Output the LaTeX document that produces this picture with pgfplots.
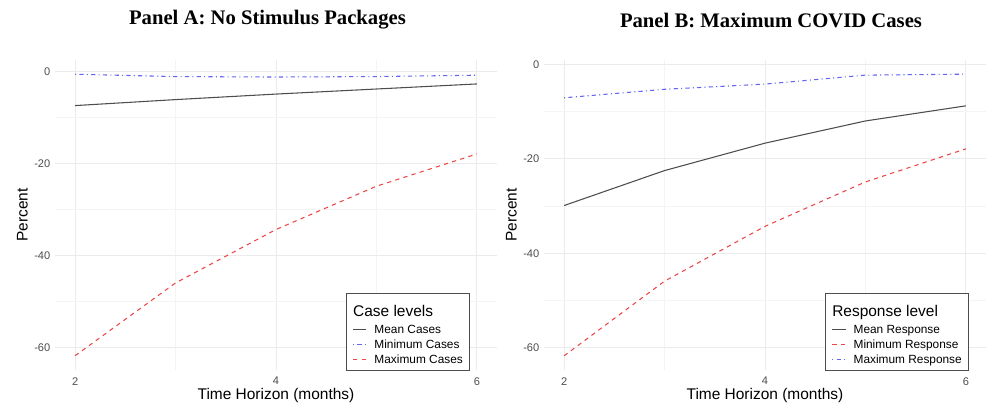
\documentclass[border=0pt]{standalone}
\usepackage{fontspec}
\setmainfont{Liberation Sans}
\newfontfamily\titlefont{Liberation Serif}
\usepackage{pgfplots}
\pgfplotsset{compat=1.18}
\definecolor{meancol}{RGB}{77,77,77}
\definecolor{bluecol}{RGB}{100,100,245}
\definecolor{redcol}{RGB}{238,70,70}
\definecolor{tickcol}{RGB}{77,77,77}
\definecolor{gridmaj}{RGB}{235,235,235}
\definecolor{gridmin}{RGB}{244,244,244}
\tikzset{
  meanline/.style={color=meancol, line width=0.8pt, solid},
  blueline/.style={color=bluecol, line width=0.8pt, dash pattern=on 0.8pt off 2.4pt on 3.2pt off 2.4pt},
  redline/.style={color=redcol, line width=0.8pt, dash pattern=on 3.2pt off 3.2pt},
  titleentry/.style={font=\fontsize{11.6}{14}\selectfont, text height=14pt, text depth=4pt},
}
\newcommand{\solidkey}[1]{\makebox[10pt][l]{\textcolor{#1}{\rule[2.3pt]{10pt}{0.8pt}}}\hspace{6pt}}
\newcommand{\dashkey}[1]{\makebox[10pt][l]{\textcolor{#1}{\rule[2.3pt]{3.2pt}{0.8pt}\hspace{3.2pt}\rule[2.3pt]{3.2pt}{0.8pt}}}\hspace{6pt}}
\newcommand{\dotdashkey}[1]{\makebox[10pt][l]{\textcolor{#1}{\rule[2.3pt]{0.8pt}{0.8pt}\hspace{2.4pt}\rule[2.3pt]{3.2pt}{0.8pt}\hspace{2.4pt}\rule[2.3pt]{0.8pt}{0.8pt}}}\hspace{6pt}}
\pgfplotsset{
  panel/.style={
    scale only axis,
    width=331.5pt, height=232.5pt,
    xmin=1.8, xmax=6.2,
    xtick={2,4,6}, minor xtick={3,5},
    ytick={0,-20,-40,-60}, minor ytick={-10,-30,-50},
    grid=both,
    major grid style={draw=gridmaj, line width=0.7pt},
    minor grid style={draw=gridmin, line width=0.5pt},
    axis line style={draw=none},
    tick style={draw=none},
    /pgf/number format/assume math mode=true,
    ticklabel style={font=\fontsize{8.3}{10}\selectfont, text=tickcol},
    xticklabel style={yshift=-2pt},
    label style={font=\fontsize{11.6}{13}\selectfont},
    xlabel={Time Horizon (months)},
    ylabel={Percent},
    xlabel style={at={(rel axis cs:0.5,-0.081)}, anchor=center},
    ylabel style={at={(rel axis cs:-0.074,0.5)}, anchor=center},
    legend style={draw=meancol, line width=0.8pt, fill=white,
      font=\fontsize{8.9}{10}\selectfont,
      nodes={anchor=west, text height=7pt, text depth=2.25pt, inner ysep=1pt},
      inner xsep=3pt, inner ysep=2pt},
    legend cell align=left,
  },
}
\begin{document}
\begin{tikzpicture}
\path (0,0) rectangle (750pt,312pt);
\node[font=\titlefont\bfseries\fontsize{15.5}{17}\selectfont] at (200.6pt,297pt) {Panel A: No Stimulus Packages};
\node[font=\titlefont\bfseries\fontsize{15.5}{17}\selectfont] at (578.25pt,297pt) {Panel B: Maximum COVID Cases};
\begin{axis}[panel, at={(41.25pt,34.5pt)}, anchor=south west,
  ymin=-64.8, ymax=2.5,
  legend style={at={(rel axis cs:0.939,-0.003)}, anchor=south east}]
\addlegendimage{empty legend}
\addlegendentry[titleentry]{Case levels}
\addlegendimage{empty legend}
\addlegendentry{\solidkey{meancol}Mean Cases}
\addlegendimage{empty legend}
\addlegendentry{\dotdashkey{bluecol}Minimum Cases}
\addlegendimage{empty legend}
\addlegendentry{\dashkey{redcol}Maximum Cases}
\addplot[meanline, forget plot] coordinates {(2,-7.4) (3,-6.1) (4,-4.9) (5,-3.8) (6,-2.7)};
\addplot[blueline, forget plot] coordinates {(2,-0.6) (3,-1.1) (4,-1.2) (5,-1.1) (6,-0.8)};
\addplot[redline, forget plot] coordinates {(2,-61.7) (3,-45.9) (4,-34.3) (5,-24.9) (6,-17.9)};
\end{axis}
\begin{axis}[panel, at={(408pt,34.5pt)}, anchor=south west,
  ymin=-64.7, ymax=0.9,
  legend style={at={(rel axis cs:0.9615,-0.003)}, anchor=south east}]
\addlegendimage{empty legend}
\addlegendentry[titleentry]{Response level}
\addlegendimage{empty legend}
\addlegendentry{\solidkey{meancol}Mean Response}
\addlegendimage{empty legend}
\addlegendentry{\dashkey{redcol}Minimum Response}
\addlegendimage{empty legend}
\addlegendentry{\dotdashkey{bluecol}Maximum Response}
\addplot[meanline, forget plot] coordinates {(2,-29.9) (3,-22.5) (4,-16.7) (5,-12.0) (6,-8.8)};
\addplot[redline, forget plot] coordinates {(2,-61.7) (3,-45.9) (4,-34.3) (5,-24.9) (6,-17.9)};
\addplot[blueline, forget plot] coordinates {(2,-7.1) (3,-5.3) (4,-4.2) (5,-2.3) (6,-2.1)};
\end{axis}
\end{tikzpicture}
\end{document}
